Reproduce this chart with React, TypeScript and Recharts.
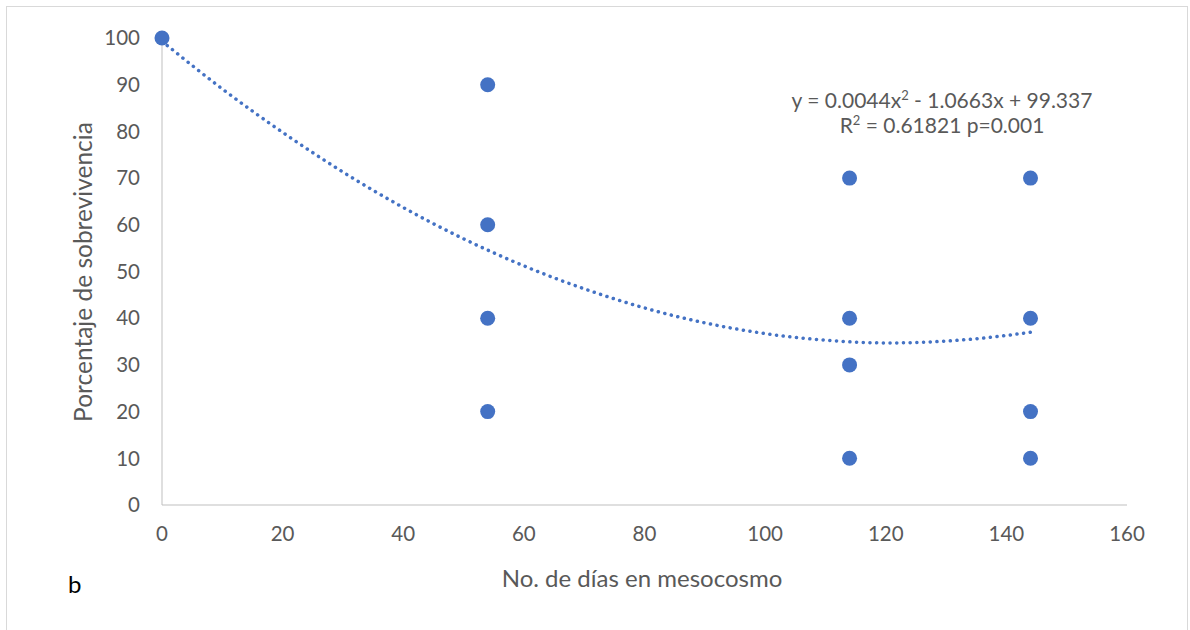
import React from "react";
import {
  ComposedChart,
  Scatter,
  Line,
  XAxis,
  YAxis,
} from "recharts";

// observed survival (%) by days in mesocosm
const days = [0, 54, 54, 54, 54, 114, 114, 114, 114, 144, 144, 144, 144];
const survival = [100, 90, 60, 40, 20, 70, 40, 30, 10, 70, 40, 20, 10];

// polynomial trend line
const trendDays = [0, 10, 20, 30, 40, 50, 60, 70, 80, 90, 100, 110, 120, 130, 140, 144];
const trendValues = [99.3, 89.1, 79.8, 71.3, 63.7, 57.0, 51.2, 46.3, 42.2, 39.0, 36.7, 35.3, 34.7, 35.1, 36.3, 37.0];

const xTicks = [0, 20, 40, 60, 80, 100, 120, 140, 160];
const yTicks = [0, 10, 20, 30, 40, 50, 60, 70, 80, 90, 100];

const BLUE = "#4472c4";
const GREY_TEXT = "#595959";
const FONT = "Lato, 'Open Sans', sans-serif";

const points = days.map((d, i) => ({ x: d, y: survival[i] }));
const trend = trendDays.map((d, i) => ({ x: d, y: trendValues[i] }));

const Dot = (props: any) => {
  const { cx, cy } = props;
  if (cx == null || cy == null) return null;
  return <circle cx={cx} cy={cy} r={7.5} fill={BLUE} />;
};

export default function App() {
  return (
    <div
      style={{
        position: "absolute",
        left: 0,
        top: 0,
        width: 1190,
        height: 630,
        background: "#fff",
        fontFamily: FONT,
      }}
    >
      <div
        style={{
          position: "absolute",
          left: 6,
          top: 6,
          width: 1182,
          height: 630,
          border: "1px solid #d9d9d9",
          boxSizing: "border-box",
        }}
      />
      <ComposedChart
        width={1190}
        height={630}
        margin={{ top: 38, right: 63, bottom: 85, left: 102 }}
        style={{ position: "absolute", left: 0, top: 0 }}
      >
        <XAxis
          type="number"
          dataKey="x"
          domain={[0, 160]}
          ticks={xTicks}
          height={40}
          stroke="#bfbfbf"
          tickLine={false}
          tickSize={0}
          tickMargin={21}
          tick={{ fill: GREY_TEXT, fontSize: 20.5, fontFamily: FONT }}
          allowDuplicatedCategory={false}
        />
        <YAxis
          type="number"
          dataKey="y"
          domain={[0, 100]}
          ticks={yTicks}
          width={60}
          stroke="#bfbfbf"
          tickLine={false}
          tickSize={0}
          tickMargin={22}
          tick={{ fill: GREY_TEXT, fontSize: 20.5, fontFamily: FONT }}
        />
        <Line
          data={trend}
          dataKey="y"
          type="monotone"
          stroke={BLUE}
          strokeWidth={3.5}
          strokeDasharray="0.1 6.6"
          strokeLinecap="round"
          dot={false}
          activeDot={false}
          isAnimationActive={false}
        />
        <Scatter
          data={points}
          dataKey="y"
          fill={BLUE}
          shape={<Dot />}
          isAnimationActive={false}
        />
      </ComposedChart>
      <div
        style={{
          position: "absolute",
          left: 82,
          top: 272,
          transform: "translate(-50%, -50%) rotate(-90deg)",
          whiteSpace: "nowrap",
          fontSize: 24.5,
          color: GREY_TEXT,
        }}
      >
        Porcentaje de sobrevivencia
      </div>
      <div
        style={{
          position: "absolute",
          left: 642,
          top: 577,
          transform: "translate(-50%, -50%)",
          whiteSpace: "nowrap",
          fontSize: 24,
          color: GREY_TEXT,
        }}
      >
        No. de días en mesocosmo
      </div>
      <div
        style={{
          position: "absolute",
          left: 68,
          top: 569,
          fontSize: 24,
          color: "#000",
        }}
      >
        b
      </div>
      <div
        style={{
          position: "absolute",
          left: 942,
          top: 87,
          transform: "translateX(-50%)",
          textAlign: "center",
          whiteSpace: "nowrap",
          fontSize: 21,
          color: GREY_TEXT,
          lineHeight: "25px",
        }}
      >
        <div style={{ height: 25 }}>
          y = 0.0044x<sup style={{ fontSize: 13, lineHeight: 0 }}>2</sup> - 1.0663x + 99.337
        </div>
        <div style={{ height: 25 }}>
          R<sup style={{ fontSize: 13, lineHeight: 0 }}>2</sup> = 0.61821 p=0.001
        </div>
      </div>
    </div>
  );
}
